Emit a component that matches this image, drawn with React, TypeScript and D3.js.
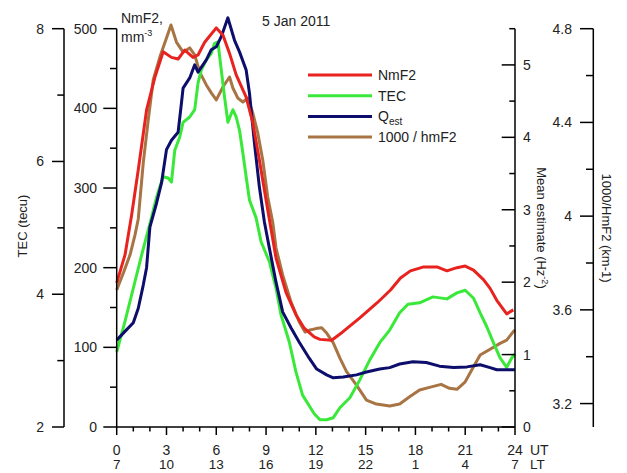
import React from "react";
import * as d3 from "d3";

// ---- data (hours UT) ----
const nmf2Hours = [0, 0.5, 0.9, 1.3, 1.8, 2.3, 2.8, 3.3, 3.7, 4.1, 4.6, 4.9, 5.3, 6.0, 6.4, 6.8, 7.2, 7.8, 8.2, 8.6, 9.0, 9.6, 10.2, 10.8, 11.3, 11.9, 12.25, 12.95, 13.6, 14.65, 15.7, 16.5, 17.1, 17.7, 18.5, 19.3, 19.9, 20.5, 21.0, 21.5, 22.1, 22.5, 22.9, 23.5, 23.9];
const nmf2Values = [181, 216, 266, 323, 398, 439, 471, 464, 462, 473, 464, 467, 483, 501, 492, 469, 442, 414, 382, 335, 285, 212, 169, 141, 124, 113, 110, 109, 119, 137, 156, 172, 187, 196, 201, 201, 196, 200, 202, 197, 185, 174, 159, 142, 147];

const tecHours = [0, 0.5, 1.0, 1.5, 2.0, 2.4, 2.8, 3.1, 3.3, 3.5, 3.8, 4.0, 4.4, 4.7, 4.9, 5.1, 5.4, 5.7, 5.9, 6.1, 6.3, 6.5, 6.7, 7.0, 7.2, 7.4, 7.6, 7.8, 8.0, 8.4, 8.7, 9.2, 9.6, 9.9, 10.4, 10.8, 11.2, 11.6, 11.9, 12.25, 12.65, 13.05, 13.45, 14.05, 14.65, 15.25, 15.85, 16.45, 17.05, 17.55, 18.25, 19.05, 19.9, 20.5, 21.0, 21.5, 21.9, 22.3, 22.7, 23.1, 23.5, 23.8, 24.0];
const tecValues = [3.13, 3.59, 4.09, 4.59, 5.06, 5.46, 5.77, 5.75, 5.69, 6.17, 6.37, 6.59, 6.67, 6.78, 7.18, 7.38, 7.53, 7.63, 7.78, 7.8, 7.38, 6.97, 6.59, 6.78, 6.67, 6.47, 6.13, 5.77, 5.42, 5.15, 4.79, 4.49, 4.09, 3.69, 3.28, 2.83, 2.48, 2.32, 2.2, 2.11, 2.11, 2.14, 2.29, 2.44, 2.71, 3.01, 3.27, 3.46, 3.72, 3.85, 3.87, 3.96, 3.93, 4.02, 4.06, 3.94, 3.72, 3.51, 3.27, 3.04, 2.9, 3.04, 3.1];

const qestHours = [0, 0.5, 1.0, 1.3, 1.6, 1.8, 2.0, 2.4, 2.7, 3.0, 3.3, 3.7, 3.9, 4.0, 4.4, 4.7, 4.9, 5.4, 5.7, 6.0, 6.3, 6.7, 7.1, 7.4, 7.8, 8.0, 8.3, 8.6, 8.9, 9.2, 9.6, 10.0, 10.5, 11.0, 11.6, 12.05, 12.65, 13.05, 13.65, 14.45, 15.05, 15.85, 16.45, 17.05, 17.85, 18.65, 19.45, 20.3, 21.1, 21.9, 22.5, 22.9, 23.9, 24.0];
const qestValues = [1.2, 1.32, 1.44, 1.64, 1.96, 2.2, 2.76, 3.09, 3.37, 3.83, 3.96, 4.07, 4.47, 4.68, 4.82, 5.0, 4.9, 5.07, 5.21, 5.25, 5.39, 5.65, 5.34, 5.18, 4.93, 4.61, 3.92, 3.31, 2.83, 2.47, 2.0, 1.59, 1.37, 1.17, 0.95, 0.8, 0.72, 0.68, 0.69, 0.72, 0.76, 0.8, 0.82, 0.87, 0.9, 0.89, 0.84, 0.82, 0.83, 0.86, 0.82, 0.79, 0.79, 0.79];

const hmHours = [0, 0.4, 0.8, 1.1, 1.3, 1.6, 1.9, 2.2, 2.6, 3.0, 3.27, 3.6, 4.0, 4.4, 4.7, 5.0, 5.4, 5.7, 6.0, 6.4, 6.8, 7.0, 7.3, 7.6, 7.9, 8.2, 8.5, 8.8, 9.1, 9.4, 9.6, 10.0, 10.5, 11.0, 11.35, 11.65, 12.0, 12.35, 12.65, 13.05, 13.45, 13.85, 14.45, 15.05, 15.65, 16.45, 17.05, 17.65, 18.25, 18.85, 19.55, 20.05, 20.5, 21.0, 21.5, 21.9, 22.5, 23.1, 23.5, 23.9, 24.0];
const hmValues = [3.685, 3.757, 3.834, 3.919, 3.988, 4.227, 4.41, 4.581, 4.679, 4.76, 4.816, 4.743, 4.7, 4.718, 4.688, 4.615, 4.56, 4.526, 4.496, 4.551, 4.594, 4.547, 4.504, 4.487, 4.504, 4.44, 4.355, 4.24, 4.082, 3.975, 3.864, 3.749, 3.634, 3.548, 3.505, 3.514, 3.52, 3.524, 3.501, 3.459, 3.394, 3.336, 3.279, 3.215, 3.198, 3.19, 3.198, 3.229, 3.258, 3.269, 3.282, 3.265, 3.261, 3.293, 3.357, 3.407, 3.432, 3.457, 3.471, 3.507, 3.514];

const utTicks = [0, 3, 6, 9, 12, 15, 18, 21, 24];
const ltLabels = ["7", "10", "13", "16", "19", "22", "1", "4", "7"];
const tecTicks = [2, 4, 6, 8];
const nmf2Ticks = [0, 100, 200, 300, 400, 500];
const qestTicks = [0, 1, 2, 3, 4, 5];
const hmTicks = [3.2, 3.6, 4, 4.4, 4.8];

const RED = "#e8221e";
const GREEN = "#3ae83a";
const NAVY = "#0d0d6b";
const BROWN = "#a87444";
const FONT = "'Liberation Sans', Arial, sans-serif";
const TXT = "#222";

export default function App() {
  const left = 116.7, right = 515, top = 28.7, bottom = 427;
  const x = d3.scaleLinear().domain([0, 24]).range([left, right]);
  const yN = d3.scaleLinear().domain([0, 500]).range([bottom, top]);
  const yT = d3.scaleLinear().domain([2, 8]).range([bottom, top]);
  const yQ = d3.scaleLinear().domain([0, 5.5]).range([bottom, top]);
  const yH = d3.scaleLinear().domain([3.1, 4.8]).range([bottom, top]);

  const mk = (hs: number[], vs: number[], y: d3.ScaleLinear<number, number>) =>
    d3.line<number>().x((_, i) => x(hs[i])).y((v) => y(v))(vs) || "";

  const tecAxisX = 64, nAxisX = left, qAxisX = right, hAxisX = 593.3;

  const series = [
    { d: mk(hmHours, hmValues, yH), c: BROWN },
    { d: mk(tecHours, tecValues, yT), c: GREEN },
    { d: mk(qestHours, qestValues, yQ), c: NAVY },
    { d: mk(nmf2Hours, nmf2Values, yN), c: RED },
  ];

  const hours = d3.range(0, 25);
  const tecMinor = [3, 5, 7];
  const nMinor = d3.range(50, 500, 100);
  const qMinor = d3.range(0.5, 5.6, 1);
  const hMinor = [3.4, 3.8, 4.2, 4.6];

  const legend = [
    { c: RED, label: <tspan>NmF2</tspan> },
    { c: GREEN, label: <tspan>TEC</tspan> },
    { c: NAVY, label: <><tspan>Q</tspan><tspan fontSize={10} dy={4}>est</tspan></> },
    { c: BROWN, label: <tspan>1000 / hmF2</tspan> },
  ];

  return (
    <svg width={627} height={473} style={{ position: "absolute", left: 0, top: 0, background: "#fff" }}
      fontFamily={FONT}>
      <rect width={627} height={473} fill="#fff" />
      {/* curves */}
      {series.map((s, i) => (
        <path key={i} d={s.d} fill="none" stroke={s.c} strokeWidth={3} strokeLinejoin="round" />
      ))}

      {/* TEC axis */}
      <g stroke="#000" strokeWidth={1.5}>
        <line x1={tecAxisX} x2={tecAxisX} y1={bottom} y2={top} />
        {tecTicks.map((t) => <line key={t} x1={52} x2={tecAxisX} y1={yT(t)} y2={yT(t)} />)}
        {tecMinor.map((t) => <line key={t} x1={57.3} x2={tecAxisX} y1={yT(t)} y2={yT(t)} />)}
      </g>
      {tecTicks.map((t) => (
        <text key={t} x={44} y={yT(t) + 5} textAnchor="end" fontSize={14} fill={TXT}>{t}</text>
      ))}

      {/* NmF2 axis */}
      <g stroke="#000" strokeWidth={1.5}>
        <line x1={nAxisX} x2={nAxisX} y1={bottom} y2={top} />
        {nmf2Ticks.map((t) => <line key={t} x1={103.3} x2={nAxisX} y1={yN(t)} y2={yN(t)} />)}
        {nMinor.map((t) => <line key={t} x1={110} x2={nAxisX} y1={yN(t)} y2={yN(t)} />)}
      </g>
      {nmf2Ticks.map((t) => (
        <text key={t} x={97} y={yN(t) + 5} textAnchor="end" fontSize={14} fill={TXT}>{t}</text>
      ))}

      {/* X axis */}
      <g stroke="#000" strokeWidth={1.5}>
        <line x1={left} x2={right} y1={bottom} y2={bottom} />
        {hours.map((h) => (
          <line key={h} x1={x(h)} x2={x(h)} y1={bottom} y2={h % 3 === 0 ? 435 : 431.5} />
        ))}
      </g>
      {utTicks.map((h, i) => (
        <g key={h}>
          <text x={x(h)} y={455} textAnchor="middle" fontSize={14} fill={TXT}>{h}</text>
          <text x={x(h)} y={469} textAnchor="middle" fontSize={13.5} fill={TXT}>{ltLabels[i]}</text>
        </g>
      ))}
      <text x={530} y={455} fontSize={14} fill={TXT}>UT</text>
      <text x={530} y={469} fontSize={13.5} fill={TXT}>LT</text>

      {/* Mean estimate axis */}
      <g stroke="#000" strokeWidth={1.5}>
        <line x1={qAxisX} x2={qAxisX} y1={bottom} y2={top} />
        {qestTicks.map((t) => <line key={t} x1={501.7} x2={qAxisX} y1={yQ(t)} y2={yQ(t)} />)}
        {qMinor.map((t) => <line key={t} x1={509.3} x2={qAxisX} y1={yQ(t)} y2={yQ(t)} />)}
      </g>
      {qestTicks.map((t) => (
        <text key={t} x={523} y={yQ(t) + 5} fontSize={14} fill={TXT}>{t}</text>
      ))}

      {/* 1000/hmF2 axis */}
      <g stroke="#000" strokeWidth={1.5}>
        <line x1={hAxisX} x2={hAxisX} y1={bottom} y2={top} />
        {hmTicks.map((t) => <line key={t} x1={580} x2={hAxisX} y1={yH(t)} y2={yH(t)} />)}
        {hMinor.map((t) => <line key={t} x1={586} x2={hAxisX} y1={yH(t)} y2={yH(t)} />)}
      </g>
      {hmTicks.map((t) => (
        <text key={t} x={572} y={yH(t) + 5} textAnchor="end" fontSize={14} fill={TXT}>{t}</text>
      ))}

      {/* axis titles */}
      <text transform="translate(27,226) rotate(-90)" textAnchor="middle" fontSize={13} fill={TXT}>TEC (tecu)</text>
      <text transform="translate(537,228) rotate(90)" textAnchor="middle" fontSize={13} fill={TXT}>
        <tspan>Mean estimate (Hz</tspan><tspan fontSize={9} dy={-5}>-2</tspan><tspan dy={5}>)</tspan>
      </text>
      <text transform="translate(602,228) rotate(90)" textAnchor="middle" fontSize={13} fill={TXT}>1000/HmF2 (km-1)</text>

      {/* top labels */}
      <text x={121} y={23} fontSize={14} fill={TXT}>NmF2,</text>
      <text x={121} y={41.5} fontSize={14} fill={TXT}>
        <tspan>mm</tspan><tspan fontSize={9} dy={-6}>-3</tspan>
      </text>
      <text x={262} y={26} fontSize={14} fill={TXT}>5 Jan 2011</text>

      {/* legend */}
      {legend.map((l, i) => {
        const ly = 75 + i * 20.7;
        return (
          <g key={i}>
            <line x1={308} x2={372} y1={ly} y2={ly} stroke={l.c} strokeWidth={3} />
            <text x={378} y={ly + 5} fontSize={14} fill={TXT}>{l.label}</text>
          </g>
        );
      })}
    </svg>
  );
}
